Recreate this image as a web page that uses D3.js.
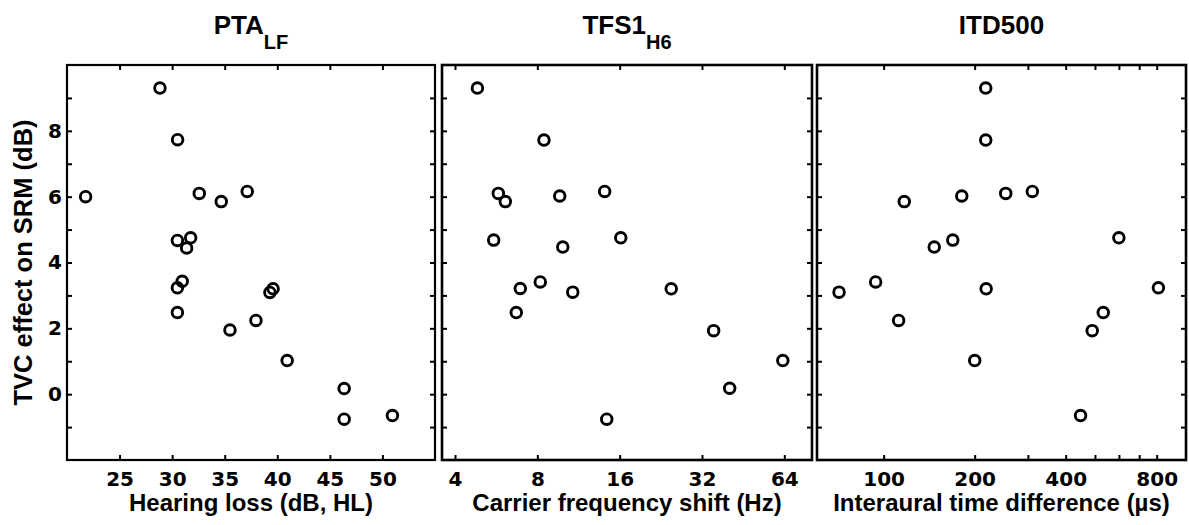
<!DOCTYPE html>
<html>
<head>
<meta charset="utf-8">
<script src="https://cdn.jsdelivr.net/npm/d3@7"></script>
<style>
  html, body { margin: 0; padding: 0; background: #fff; }
  svg { display: block; }
</style>
</head>
<body>
<svg id="chart" width="1189" height="525"></svg>
<script>
// ---------------- DATA ----------------
const yTicks = [-1, 0, 1, 2, 3, 4, 5, 6, 7, 8, 9];
const yTickLabels = [0, 2, 4, 6, 8];

// Panel 1: PTA_LF (hearing loss, dB HL) vs TVC effect on SRM (dB)
const ptaX = [28.84, 30.52, 21.77, 32.58, 34.67, 37.14, 30.5, 31.76, 31.38, 30.96,
              30.5, 39.3, 39.6, 30.5, 35.5, 37.97, 40.94, 46.36, 46.36, 50.95];
const ptaY = [9.30, 7.73, 6.00, 6.10, 5.85, 6.16, 4.67, 4.75, 4.44, 3.43,
              3.23, 3.09, 3.20, 2.48, 1.95, 2.24, 1.02, 0.17, -0.76, -0.65];
const ptaTicks = [25, 30, 35, 40, 45, 50];

// Panel 2: TFS1_H6 (carrier frequency shift, Hz)
const tfsX = [4.83, 8.46, 5.76, 6.11, 9.66, 14.1, 5.54, 9.91, 16.15, 6.93,
              8.2, 10.78, 6.70, 24.7, 35.3, 63.2, 40.4, 14.35];
const tfsY = [9.30, 7.72, 6.10, 5.85, 6.02, 6.16, 4.68, 4.47, 4.75, 3.21,
              3.41, 3.10, 2.48, 3.20, 1.93, 1.02, 0.18, -0.76];
const tfsTicks = [4, 8, 16, 32, 64];

// Panel 3: ITD500 (interaural time difference, µs)
const itdX = [217.6, 217.6, 117, 181.3, 253.4, 310.3, 169.3, 147, 599.7, 71.2,
              94.1, 218.3, 810.5, 112.1, 532.5, 489.6, 200.1, 448];
const itdY = [9.30, 7.72, 5.85, 6.02, 6.10, 6.16, 4.68, 4.47, 4.75, 3.10,
              3.41, 3.20, 3.23, 2.24, 2.48, 1.93, 1.02, -0.65];
const itdTicks = [100, 200, 300, 400, 500, 600, 700, 800];
const itdTickLabels = [100, 200, 400, 800];

const titles = [["PTA", "LF"], ["TFS1", "H6"], ["ITD500", ""]];
const xLabels = ["Hearing loss (dB, HL)", "Carrier frequency shift (Hz)", "Interaural time difference (\u00b5s)"];
const yLabel = "TVC effect on SRM (dB)";

// ---------------- LAYOUT ----------------
const svg = d3.select("#chart");
const plotTop = 65, plotBottom = 460;
const panels = [
  { x0: 67,  x1: 435,  scale: d3.scaleLinear().domain([20, 55]),
    xs: ptaX, ys: ptaY, ticks: ptaTicks, labels: ptaTicks },
  { x0: 442, x1: 812,  scale: d3.scaleLog().base(2).domain([3.585, 80.8]),
    xs: tfsX, ys: tfsY, ticks: tfsTicks, labels: tfsTicks },
  { x0: 817, x1: 1186, scale: d3.scaleLog().base(2).domain([60.2, 1000]),
    xs: itdX, ys: itdY, ticks: itdTicks, labels: itdTickLabels }
];

const y = d3.scaleLinear().domain([-2, 10]).range([plotBottom, plotTop]);
const tickFont = "'DejaVu Sans', sans-serif";
const labFont = "'Liberation Sans', Arial, sans-serif";

panels.forEach((p, i) => {
  const x = p.scale.range([p.x0, p.x1]);
  const g = svg.append("g");

  // frame
  g.append("rect")
    .attr("x", p.x0).attr("y", plotTop)
    .attr("width", p.x1 - p.x0).attr("height", plotBottom - plotTop)
    .attr("fill", "none").attr("stroke", "#000").attr("stroke-width", i === 0 ? 2.2 : 2.6);

  const fmtX = d => p.labels.includes(d) ? String(d) : "";
  const fmtY = d => (i === 0 && yTickLabels.includes(d)) ? String(d) : "";

  const styleAxis = (sel) => {
    sel.select(".domain").remove();
    sel.selectAll(".tick line").attr("stroke", "#000").attr("stroke-width", 2);
    sel.selectAll(".tick text")
      .attr("fill", "#000")
      .style("font-family", tickFont)
      .style("font-weight", "bold")
      .style("font-size", "20px");
  };

  // bottom axis
  const gb = g.append("g").attr("transform", `translate(0,${plotBottom})`)
    .call(d3.axisBottom(x).tickValues(p.ticks).tickFormat(fmtX).tickSize(-5).tickPadding(0));
  styleAxis(gb);
  gb.selectAll(".tick text").attr("y", 26).attr("dy", 0);

  // top axis
  const gt = g.append("g").attr("transform", `translate(0,${plotTop})`)
    .call(d3.axisTop(x).tickValues(p.ticks).tickFormat("").tickSize(-5));
  styleAxis(gt);

  // left axis
  const gl = g.append("g").attr("transform", `translate(${p.x0},0)`)
    .call(d3.axisLeft(y).tickValues(yTicks).tickFormat(fmtY).tickSize(-5).tickPadding(5));
  styleAxis(gl);

  // right axis
  const gr = g.append("g").attr("transform", `translate(${p.x1},0)`)
    .call(d3.axisRight(y).tickValues(yTicks).tickFormat("").tickSize(-5));
  styleAxis(gr);

  // points
  const pts = p.xs.map((v, k) => ({ x: v, y: p.ys[k] }));
  g.append("g").selectAll("circle").data(pts).join("circle")
    .attr("cx", d => x(d.x)).attr("cy", d => y(d.y))
    .attr("r", 5.3)
    .attr("fill", "none").attr("stroke", "#000").attr("stroke-width", 2.9);

  // title
  const cx = (p.x0 + p.x1) / 2;
  const t = svg.append("text")
    .attr("x", cx).attr("y", 34)
    .attr("text-anchor", "middle")
    .style("font-family", labFont).style("font-weight", "bold");
  t.append("tspan").style("font-size", "26px").text(titles[i][0]);
  if (titles[i][1]) {
    t.append("tspan").attr("dy", 15).style("font-size", "20px").text(titles[i][1]);
  }

  // x label
  svg.append("text")
    .attr("x", cx).attr("y", 511)
    .attr("text-anchor", "middle")
    .style("font-family", labFont).style("font-weight", "bold").style("font-size", "24px")
    .text(xLabels[i]);
});

// y label
svg.append("text")
  .attr("transform", `translate(32,${(plotTop + plotBottom) / 2}) rotate(-90)`)
  .attr("text-anchor", "middle")
  .style("font-family", labFont).style("font-weight", "bold").style("font-size", "25.5px")
  .text(yLabel);
</script>
</body>
</html>
